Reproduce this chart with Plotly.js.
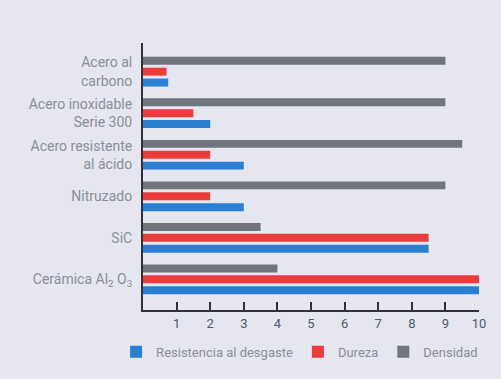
<!DOCTYPE html>
<html>
<head>
<meta charset="utf-8">
<script src="https://cdn.plot.ly/plotly-3.0.1.min.js"></script>
<style>html,body{margin:0;padding:0;background:#e5e6ef;}</style>
</head>
<body>
<div id="chart" style="width:501px;height:379px;"></div>
<script>
// Categories, top to bottom as in the reference
const categories = [
  "Acero al<br>carbono",
  "Acero inoxidable<br>Serie 300",
  "Acero resistente<br>al ácido",
  "Nitruzado",
  "SiC",
  "Cerámica Al<sub>2</sub> O<sub>3</sub>"
];
const resistencia = [0.75, 2, 3, 3, 8.5, 10];
const dureza      = [0.7, 1.5, 2, 2, 8.5, 10];
const densidad    = [9, 9, 9.5, 9, 3.5, 4];
const seriesNames = ["Resistencia al desgaste", "Dureza", "Densidad"];
const tickVals = [1, 2, 3, 4, 5, 6, 7, 8, 9, 10];
const tickText = ["1", "2", "3", "4", "5", "6", "7", "8", "9", "10"];

const colors = ["#2b7fd3", "#ec3b3b", "#70747d"];
const values = [resistencia, dureza, densidad];

const data = values.map((v, i) => ({
  type: "bar",
  orientation: "h",
  name: seriesNames[i],
  y: categories,
  x: v,
  marker: {color: colors[i]},
  hoverinfo: "x+name"
}));

const layout = {
  width: 501,
  height: 379,
  margin: {l: 143, r: 22, t: 43, b: 67},
  paper_bgcolor: "#e5e6ef",
  plot_bgcolor: "#e5e6ef",
  barmode: "group",
  bargap: 0.214,
  bargroupgap: 0.27,
  font: {family: "Roboto, 'Open Sans', sans-serif", color: "#8c8e98", size: 14},
  xaxis: {
    range: [0, 10],
    tickvals: tickVals,
    ticktext: tickText,
    ticks: "inside",
    ticklen: 8,
    tickwidth: 2,
    tickcolor: "#2f3136",
    showline: true,
    linewidth: 2,
    linecolor: "#2f3136",
    showgrid: false,
    zeroline: false,
    tickfont: {size: 13, color: "#555a66"}
  },
  yaxis: {
    type: "category",
    categoryorder: "array",
    categoryarray: categories.slice().reverse(),
    range: [-0.738, 5.69],
    showline: true,
    linewidth: 2,
    linecolor: "#2f3136",
    ticks: "",
    showgrid: false,
    zeroline: false,
    ticklabelstandoff: 6,
    tickfont: {size: 14, color: "#8c8e98"}
  },
  showlegend: true,
  legend: {
    orientation: "h",
    x: -0.08,
    xanchor: "left",
    y: -0.1,
    yanchor: "top",
    font: {size: 13, color: "#8c8e98"},
    bgcolor: "rgba(0,0,0,0)",
    traceorder: "normal"
  }
};

Plotly.newPlot("chart", data, layout, {displayModeBar: false, staticPlot: true});
</script>
</body>
</html>
